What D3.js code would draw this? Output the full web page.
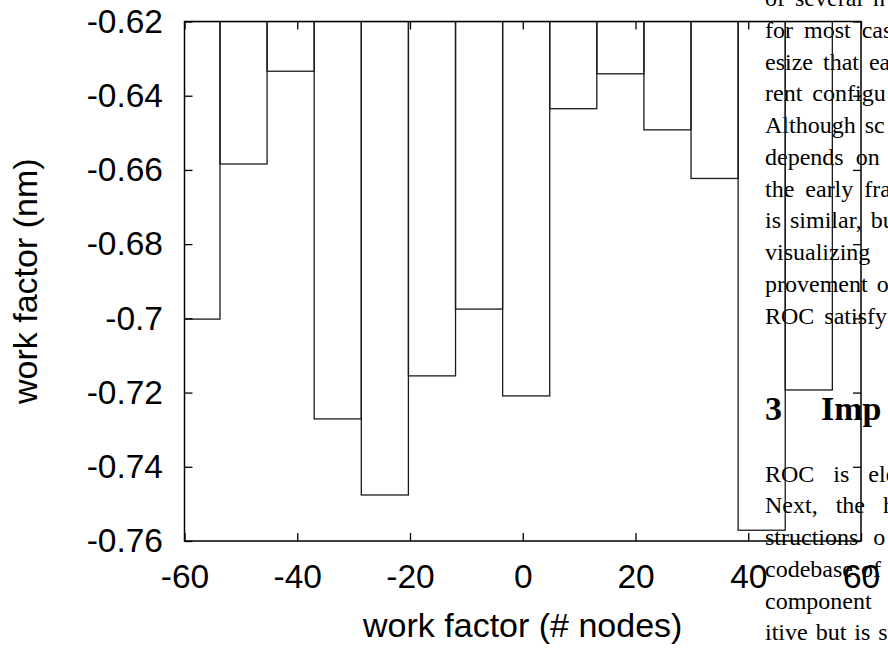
<!DOCTYPE html>
<html>
<head>
<meta charset="utf-8">
<script src="https://cdn.jsdelivr.net/npm/d3@7"></script>
<style>
  body { margin: 0; background: #fff; }
  svg { display: block; }
  .tick text { font-family: "Liberation Sans", Arial, sans-serif; font-size: 33.5px; fill: #000; }
  .title { font-family: "Liberation Sans", Arial, sans-serif; font-size: 34px; fill: #000; }
  .page { font-family: "Liberation Serif", "Times New Roman", serif; font-size: 24px; fill: #000; }
</style>
</head>
<body>
<svg id="chart" width="888" height="649"></svg>
<script>
// histogram of work factor, bars hang from the top of the plot
var binCenters = [-57.88, -49.53, -41.17, -32.82, -24.46, -16.1, -7.75,
                  0.61, 8.96, 17.32, 25.67, 34.03, 42.38, 50.74];
var binValues = [-0.7002, -0.6584, -0.6334, -0.7271, -0.7476, -0.7155, -0.6975,
                 -0.7209, -0.6435, -0.6341, -0.6492, -0.6623, -0.7571, -0.7193];
var binWidth = 8.355;

var xTicks = [-60, -40, -20, 0, 20, 40, 60];
var yTicks = [-0.76, -0.74, -0.72, -0.7, -0.68, -0.66, -0.64, -0.62];

// bits of the paper page that sits behind the figure
var pageTop = ["of several n", "for most cas", "esize that ea", "rent configu",
               "Although sc", "depends on", "the early fra", "is similar, bu",
               "visualizing", "provement o", "ROC satisfy"];
var pageHeading = ["3", "Imp"];
var pageBottom = ["ROC is ele", "Next, the h", "structions o", "codebase of",
                  "component", "itive but is s"];
// justified lines get stretched spaces
var topSpacing = [4, 5, 4, 4, 3, 6, 5, 3, 0, 3, 4];
var bottomSpacing = [13, 12, 9, 2, 0, 2];

var margin = {top: 21.5, right: 27, bottom: 108, left: 184.5},
    W = 888, H = 649,
    width = W - margin.left - margin.right,
    height = H - margin.top - margin.bottom;

var svg = d3.select("#chart");
svg.append("rect").attr("width", W).attr("height", H).attr("fill", "#fff");

// page text first, the plot is drawn over it
var page = svg.append("g").attr("class", "page");
page.selectAll("text.top")
    .data(pageTop)
    .enter().append("text")
    .attr("class", "top")
    .attr("x", 765)
    .attr("y", function(d, i) { return 6 + i * 31.75; })
    .style("word-spacing", function(d, i) { return topSpacing[i] + "px"; })
    .text(function(d) { return d; });

var head = page.append("text")
    .attr("y", 420)
    .style("font-weight", "bold")
    .style("font-size", "34px");
head.append("tspan").attr("x", 765).text(pageHeading[0]);
head.append("tspan").attr("x", 821).text(pageHeading[1]);

page.selectAll("text.bot")
    .data(pageBottom)
    .enter().append("text")
    .attr("class", "bot")
    .attr("x", 765)
    .attr("y", function(d, i) { return 481.7 + i * 31.7; })
    .style("word-spacing", function(d, i) { return bottomSpacing[i] + "px"; })
    .text(function(d) { return d; });

var g = svg.append("g")
    .attr("transform", "translate(" + margin.left + "," + margin.top + ")");

var x = d3.scaleLinear().domain([-60, 60]).range([0, width]);
var y = d3.scaleLinear().domain([-0.76, -0.62]).range([height, 0]);

g.append("defs").append("clipPath")
    .attr("id", "clip")
    .append("rect")
    .attr("width", width)
    .attr("height", height);

g.append("g")
    .attr("clip-path", "url(#clip)")
    .selectAll("rect")
    .data(binCenters)
    .enter().append("rect")
    .attr("x", function(d) { return x(d - binWidth / 2); })
    .attr("width", function(d) { return x(d + binWidth / 2) - x(d - binWidth / 2); })
    .attr("y", y(-0.62))
    .attr("height", function(d, i) { return y(binValues[i]) - y(-0.62); })
    .attr("fill", "none")
    .attr("stroke", "#1a1a1a")
    .attr("stroke-width", 1.3);

function fmtY(d) { return String(+d.toFixed(2)); }

g.append("g")
    .attr("transform", "translate(0," + height + ")")
    .call(d3.axisBottom(x).tickValues(xTicks).tickSizeInner(-8).tickSizeOuter(0)
        .tickPadding(23).tickFormat(function(d) { return String(d); }));
g.append("g")
    .call(d3.axisLeft(y).tickValues(yTicks).tickSizeInner(-8).tickSizeOuter(0)
        .tickPadding(21.5).tickFormat(fmtY));
g.append("g")
    .call(d3.axisTop(x).tickValues(xTicks).tickSizeInner(-8).tickSizeOuter(0)
        .tickFormat(""));
g.append("g")
    .attr("transform", "translate(" + width + ",0)")
    .call(d3.axisRight(y).tickValues(yTicks).tickSizeInner(-8).tickSizeOuter(0)
        .tickFormat(""));

g.selectAll(".domain").remove();
g.selectAll(".tick line").attr("stroke", "#000").attr("stroke-width", 1.3);
svg.selectAll("g").attr("font-family", null).attr("font-size", null);

// plot frame
g.append("rect")
    .attr("width", width)
    .attr("height", height)
    .attr("fill", "none")
    .attr("stroke", "#000")
    .attr("stroke-width", 1.5);

svg.append("text")
    .attr("class", "title")
    .attr("x", margin.left + width / 2)
    .attr("y", 637)
    .attr("text-anchor", "middle")
    .text("work factor (# nodes)");

svg.append("text")
    .attr("class", "title")
    .attr("transform", "translate(37," + (margin.top + height / 2) + ") rotate(-90)")
    .attr("text-anchor", "middle")
    .text("work factor (nm)");
</script>
</body>
</html>
